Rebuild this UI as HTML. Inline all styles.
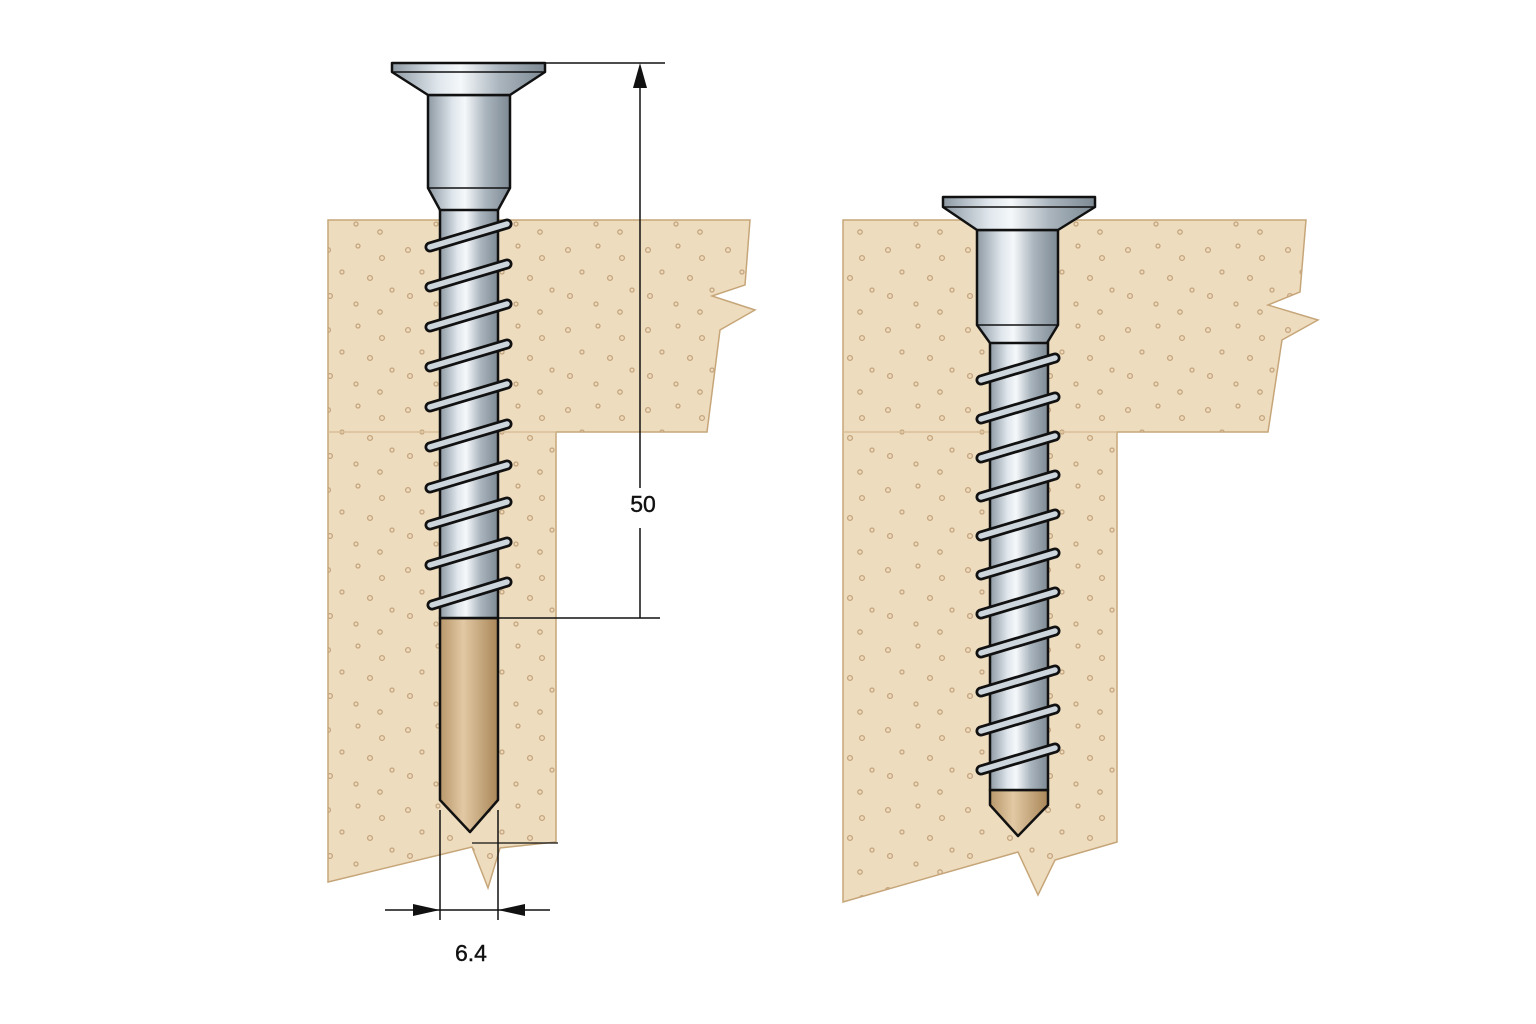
<!DOCTYPE html>
<html><head><meta charset="utf-8"><style>
html,body{margin:0;padding:0;background:#fff;width:1536px;height:1024px;overflow:hidden}
text{font-family:"Liberation Sans",sans-serif}
</style></head><body>
<svg width="1536" height="1024" viewBox="0 0 1536 1024" xmlns="http://www.w3.org/2000/svg">
<defs>
<pattern id="dots" width="80" height="80" patternUnits="userSpaceOnUse">
<g fill="none" stroke="#c4a47c" stroke-width="1.3">
<circle cx="8" cy="10" r="2.4"/><circle cx="38" cy="6" r="2"/><circle cx="62" cy="18" r="2.4"/>
<circle cx="22" cy="32" r="2"/><circle cx="50" cy="38" r="2.4"/><circle cx="72" cy="50" r="2"/>
<circle cx="10" cy="56" r="2.4"/><circle cx="36" cy="64" r="2"/><circle cx="60" cy="72" r="2.2"/>
</g>
</pattern>
<linearGradient id="metal" x1="0" x2="1" y1="0" y2="0">
<stop offset="0" stop-color="#8d99a3"/><stop offset="0.3" stop-color="#dfe6ec"/><stop offset="0.45" stop-color="#f5f8fa"/><stop offset="0.7" stop-color="#aab5be"/><stop offset="1" stop-color="#7d8993"/>
</linearGradient>
<linearGradient id="tan" x1="0" x2="1" y1="0" y2="0">
<stop offset="0" stop-color="#b8966a"/><stop offset="0.4" stop-color="#e2c9a4"/><stop offset="1" stop-color="#a98658"/>
</linearGradient>
</defs>

<polygon points="328,220 750,220 745,285 712,296 755,310 720,330 707,432 556,432 556,842 500,848 488,888 472,847 328,882" fill="#eedcbf" stroke="#c6a679" stroke-width="1.5"/>
<polygon points="328,220 750,220 745,285 712,296 755,310 720,330 707,432 556,432 556,842 500,848 488,888 472,847 328,882" fill="url(#dots)"/>
<line x1="328" y1="432" x2="556" y2="432" stroke="#d8bf98" stroke-width="1.5"/>

<polygon points="843,220 1306,220 1300,292 1268,305 1318,320 1282,340 1268,432 1117,432 1117,842 1055,860 1038,895 1018,852 843,902" fill="#eedcbf" stroke="#c6a679" stroke-width="1.5"/>
<polygon points="843,220 1306,220 1300,292 1268,305 1318,320 1282,340 1268,432 1117,432 1117,842 1055,860 1038,895 1018,852 843,902" fill="url(#dots)"/>
<line x1="843" y1="432" x2="1117" y2="432" stroke="#d8bf98" stroke-width="1.5"/>

<g stroke="#111" stroke-width="2.5" stroke-linejoin="round">
<path d="M440,618 L498,618 L498,800 L470,832 L440,800 Z" fill="url(#tan)"/>
<rect x="440" y="205" width="58" height="413" fill="url(#metal)"/>
<path d="M428,95 L510,95 L510,188 L498,210 L440,210 L428,188 Z" fill="url(#metal)"/>
<path d="M392,63 L545,63 L545,72 L510,95 L428,95 L392,72 Z" fill="url(#metal)"/>
</g>
<g stroke="#111" stroke-width="1.5"><line x1="392" y1="72" x2="545" y2="72"/><line x1="428" y1="188" x2="510" y2="188"/></g>
<g stroke-linecap="round" fill="none">
<g stroke="#111" stroke-width="11">
<path d="M430,247 L507,224"/><path d="M430,287 L507,264"/><path d="M430,327 L507,304"/><path d="M430,367 L507,344"/><path d="M430,407 L507,384"/><path d="M430,447 L507,424"/><path d="M430,488 L507,465"/><path d="M430,525 L507,502"/><path d="M430,565 L507,542"/><path d="M432,605 L507,582"/>
</g>
<g stroke="#cdd6dd" stroke-width="5.5">
<path d="M430,247 L507,224"/><path d="M430,287 L507,264"/><path d="M430,327 L507,304"/><path d="M430,367 L507,344"/><path d="M430,407 L507,384"/><path d="M430,447 L507,424"/><path d="M430,488 L507,465"/><path d="M430,525 L507,502"/><path d="M430,565 L507,542"/><path d="M432,605 L507,582"/>
</g>
</g>

<g stroke="#111" stroke-width="2.5" stroke-linejoin="round">
<path d="M990,790 L1048,790 L1048,805 L1018,836 L990,805 Z" fill="url(#tan)"/>
<rect x="990" y="340" width="58" height="450" fill="url(#metal)"/>
<path d="M977,230 L1058,230 L1058,325 L1047,343 L990,343 L977,325 Z" fill="url(#metal)"/>
<path d="M943,197 L1095,197 L1095,207 L1058,230 L977,230 L943,207 Z" fill="url(#metal)"/>
</g>
<g stroke="#111" stroke-width="1.5"><line x1="943" y1="207" x2="1095" y2="207"/><line x1="977" y1="325" x2="1058" y2="325"/></g>
<g stroke-linecap="round" fill="none">
<g stroke="#111" stroke-width="11">
<path d="M981,380 L1055,358"/><path d="M981,419 L1055,397"/><path d="M981,458 L1055,436"/><path d="M981,497 L1055,475"/><path d="M981,536 L1055,514"/><path d="M981,575 L1055,553"/><path d="M981,614 L1055,592"/><path d="M981,653 L1055,631"/><path d="M981,692 L1055,670"/><path d="M981,731 L1055,709"/><path d="M981,770 L1055,748"/>
</g>
<g stroke="#cdd6dd" stroke-width="5.5">
<path d="M981,380 L1055,358"/><path d="M981,419 L1055,397"/><path d="M981,458 L1055,436"/><path d="M981,497 L1055,475"/><path d="M981,536 L1055,514"/><path d="M981,575 L1055,553"/><path d="M981,614 L1055,592"/><path d="M981,653 L1055,631"/><path d="M981,692 L1055,670"/><path d="M981,731 L1055,709"/><path d="M981,770 L1055,748"/>
</g>
</g>

<g stroke="#111" stroke-width="1.5" fill="none">
<line x1="545" y1="63" x2="665" y2="63"/>
<line x1="498" y1="618" x2="660" y2="618"/>
<line x1="640" y1="85" x2="640" y2="488"/>
<line x1="640" y1="528" x2="640" y2="618"/>
<line x1="440" y1="810" x2="440" y2="920"/>
<line x1="498" y1="810" x2="498" y2="920"/>
<line x1="385" y1="910" x2="550" y2="910"/>
<line x1="472" y1="843" x2="558" y2="843" stroke-width="1.2"/>
</g>
<polygon points="640,63 633,88 647,88" fill="#111"/>
<polygon points="440,910 413,904 413,916" fill="#111"/>
<polygon points="498,910 525,904 525,916" fill="#111"/>
<text x="643" y="512" font-size="23" text-anchor="middle" fill="#111" stroke="#111" stroke-width="0.4">50</text>
<text x="471" y="961" font-size="23" text-anchor="middle" fill="#111" stroke="#111" stroke-width="0.4">6.4</text>
</svg>
</body></html>
